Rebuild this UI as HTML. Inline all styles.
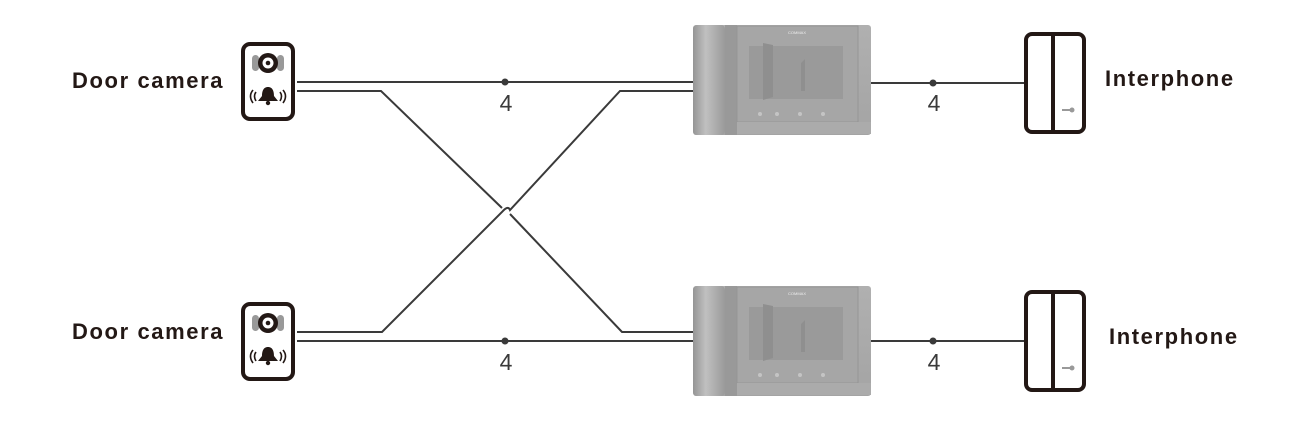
<!DOCTYPE html>
<html><head><meta charset="utf-8"><style>
html,body{margin:0;padding:0;background:#fff;width:1297px;height:431px;overflow:hidden}
svg{display:block}
</style></head><body>
<svg width="1297" height="431" viewBox="0 0 1297 431" xmlns="http://www.w3.org/2000/svg">
<defs>
<linearGradient id="hs" x1="0" x2="1" y1="0" y2="0">
<stop offset="0" stop-color="#959595"/><stop offset="0.4" stop-color="#c0c0c0"/><stop offset="1" stop-color="#9a9a9a"/>
</linearGradient>
<linearGradient id="bd" x1="0" x2="0" y1="0" y2="1">
<stop offset="0" stop-color="#b0b0b0"/><stop offset="1" stop-color="#a4a4a4"/>
</linearGradient>
<g id="cam">
<rect x="2" y="2" width="50" height="75" rx="7" fill="#fff" stroke="#231815" stroke-width="4"/>
<rect x="11" y="13" width="7" height="16" rx="3.5" fill="#999"/>
<rect x="36" y="13" width="7" height="16" rx="3.5" fill="#999"/>
<circle cx="27" cy="21" r="10" fill="#231815"/>
<circle cx="27" cy="21" r="5.5" fill="#fff"/>
<circle cx="27" cy="21" r="2.3" fill="#231815"/>
<path d="M27 45 c-5 0 -6 5 -6 9 l-4 5 h20 l-4 -5 c0 -4 -1 -9 -6 -9z" fill="#231815"/>
<circle cx="27" cy="61" r="2.2" fill="#231815"/>
<path d="M15 50 q-3 4 0 9 M12 48 q-5 6 0 13 M39 50 q3 4 0 9 M42 48 q5 6 0 13" fill="none" stroke="#231815" stroke-width="1.6"/>
</g>
<g id="mon">
<rect x="0" y="0" width="178" height="110" rx="3" fill="url(#bd)"/>
<rect x="0" y="0" width="32" height="110" rx="4" fill="url(#hs)"/>
<rect x="32" y="0" width="12" height="110" fill="#999"/>
<rect x="44" y="1" width="121" height="96" fill="#a6a6a6" stroke="#959595"/>
<rect x="56" y="21" width="94" height="53" fill="#9a9a9a"/>
<path d="M70 18 L80 20 L80 72 L70 75Z" fill="#8f8f8f"/>
<path d="M108 38 L112 34 L112 66 L108 66Z" fill="#8f8f8f"/>
<text x="104" y="9" font-size="4" fill="#eee" text-anchor="middle" font-family="Liberation Sans, sans-serif">COMMAX</text>
<g fill="#c4c4c4"><circle cx="67" cy="89" r="2"/><circle cx="84" cy="89" r="2"/><circle cx="107" cy="89" r="2"/><circle cx="130" cy="89" r="2"/></g>
<rect x="44" y="97" width="134" height="12" fill="#ababab"/>
</g>
<g id="ip">
<rect x="2" y="2" width="58" height="98" rx="6" fill="#fff" stroke="#231815" stroke-width="4"/>
<line x1="29" y1="2" x2="29" y2="100" stroke="#231815" stroke-width="4"/>
<circle cx="48" cy="78" r="2.5" fill="#999"/>
<line x1="38" y1="78" x2="47" y2="78" stroke="#999" stroke-width="2"/>
</g>
</defs>

<g font-family="Liberation Sans, sans-serif" font-weight="bold" font-size="22" letter-spacing="1.6" fill="#231815">
<text x="72" y="88">Door camera</text>
<text x="72" y="339">Door camera</text>
<text x="1105" y="86">Interphone</text>
<text x="1109" y="344">Interphone</text>
</g>

<g stroke="#3a3a3a" stroke-width="2" fill="none">
<line x1="297" y1="82" x2="694" y2="82"/>
<path d="M297 91 H381 L502 208 M510 214 L622 332 H694"/>
<line x1="297" y1="341" x2="694" y2="341"/>
<path d="M297 332 H382 L502 212 Q508 205 510 210 L620 91 H694"/>
<line x1="870" y1="83" x2="1027" y2="83"/>
<line x1="870" y1="341" x2="1027" y2="341"/>
</g>
<g fill="#3a3a3a">
<circle cx="505" cy="82" r="3.5"/><circle cx="505" cy="341" r="3.5"/>
<circle cx="933" cy="83" r="3.5"/><circle cx="933" cy="341" r="3.5"/>
</g>
<g font-family="Liberation Sans, sans-serif" font-size="23" fill="#3a3a3a" text-anchor="middle">
<text x="506" y="111">4</text><text x="506" y="370">4</text>
<text x="934" y="111">4</text><text x="934" y="370">4</text>
</g>

<use href="#cam" x="241" y="42"/>
<use href="#cam" x="241" y="302"/>
<use href="#mon" x="693" y="25"/>
<use href="#mon" x="693" y="286"/>
<use href="#ip" x="1024" y="32"/>
<use href="#ip" x="1024" y="290"/>
</svg>
</body></html>
